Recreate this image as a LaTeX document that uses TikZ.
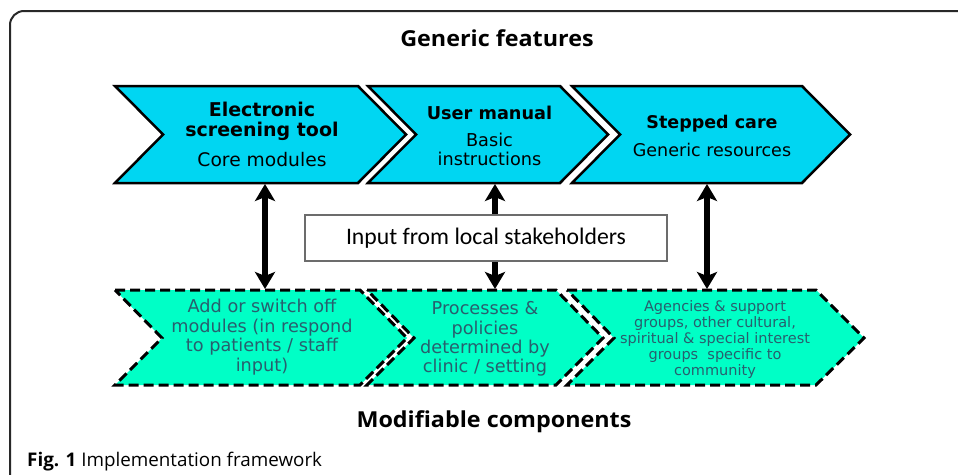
\documentclass[tikz,border=0pt]{standalone}
\usepackage{fontspec}
\setmainfont{DejaVu Sans}
\newfontfamily\calib{Carlito}
\newfontfamily\capf{Open Sans}
\newfontfamily\headf{Open Sans}[FakeStretch=1.06]
\usetikzlibrary{arrows.meta}
\definecolor{topfill}{RGB}{0,214,242}
\definecolor{botfill}{RGB}{0,255,198}
\definecolor{bottext}{RGB}{40,95,110}
\definecolor{framec}{RGB}{40,40,40}
\tikzset{
  topchev/.style={fill=topfill, draw=black, line width=2.5pt, line join=miter},
  botchev/.style={fill=botfill, draw=black, line width=3pt, dash pattern=on 10pt off 5pt},
  toptxt/.style={align=center, inner sep=0pt, anchor=base, text=black},
  bottxt/.style={align=center, inner sep=0pt, anchor=base, text=bottext},
  link/.style={line width=6pt, {Stealth[length=17pt,width=20pt,inset=4pt]}-{Stealth[length=17pt,width=20pt,inset=4pt]}},
  heading/.style={font=\headf\bfseries\fontsize{22}{24}\selectfont, inner sep=0pt, anchor=base}
}
\begin{document}
\begin{tikzpicture}[x=1pt,y=-1pt]
\useasboundingbox (0,0) rectangle (958,474);
% frame
\draw[framec, line width=2pt, rounded corners=14pt] (10,480) -- (10,11) -- (965,11);

% top chevrons
\draw[topchev] (115,86) -- (358,86) -- (406,134.5) -- (358,183) -- (115,183) -- (163,134.5) -- cycle;
\draw[topchev] (368,86) -- (560,86) -- (608,134.5) -- (560,183) -- (368,183) -- (416,134.5) -- cycle;
\draw[topchev] (572,86) -- (802,86) -- (850,134.5) -- (802,183) -- (572,183) -- (620,134.5) -- cycle;

% bottom chevrons
\draw[botchev] (115,290) -- (360,290) -- (407,338) -- (360,385) -- (115,385) -- (162,338) -- cycle;
\draw[botchev] (367,290) -- (556,290) -- (603,338) -- (556,385) -- (367,385) -- (414,338) -- cycle;
\draw[botchev] (567,290) -- (816,290) -- (864,338) -- (816,385) -- (567,385) -- (614,338) -- cycle;

% headings
\node[heading] (gen) at (497,46.5) {Generic features};
\node[heading] (mod) at (494,427.5) {Modifiable components};
\node[inner sep=0pt, anchor=base west, font=\capf\fontsize{18.8}{22}\selectfont] (cap) at (27,466) {\textbf{Fig. 1} Implementation framework};

% top texts (base anchor = last line)
\node[toptxt, font=\fontsize{19}{20}\selectfont] (t1) at (262,166.7) {\textbf{Electronic}\\\textbf{screening tool}\\[10pt]{\fontsize{18.7}{20}\selectfont Core modules}};
\node[toptxt, font=\fontsize{17.7}{20}\selectfont] (t2) at (489.5,165.7) {\textbf{User manual}\\[7pt]Basic\\[-0.3pt]instructions};
\node[toptxt, font=\fontsize{17.5}{20}\selectfont] (t3) at (712,156) {\textbf{Stepped care}\\[7.7pt]Generic resources};

% bottom texts
\node[bottxt, font=\fontsize{17.7}{19.4}\selectfont] (b1) at (262,371) {Add or switch off\\modules (in respond\\to patients / staff\\input)};
\node[bottxt, font=\fontsize{17.7}{19.3}\selectfont] (b2) at (485,372.7) {Processes \&\\policies\\determined by\\clinic / setting};
\node[bottxt, font=\fontsize{14.5}{15.8}\selectfont] (b3) at (715,375) {Agencies \& support\\groups, other cultural,\\spiritual \& special interest\\groups\ \ specific to\\community};

% connector end points
\coordinate (c1) at (265,184);
\coordinate (d1) at (265,289);
\coordinate (c2) at (495,184);
\coordinate (d2) at (495,289);
\coordinate (c3) at (707,184);
\coordinate (d3) at (707,289);
\draw[link] (c1) -- (d1);
\draw[link] (c2) -- (d2);
\draw[link] (c3) -- (d3);

% input box
\node[draw=gray!85!black, line width=1.3pt, fill=white, minimum width=362pt, minimum height=46pt, inner sep=0pt, font=\calib\fontsize{23.7}{26}\selectfont] (inp) at (486,238) {Input from local stakeholders};
\end{tikzpicture}
\end{document}
